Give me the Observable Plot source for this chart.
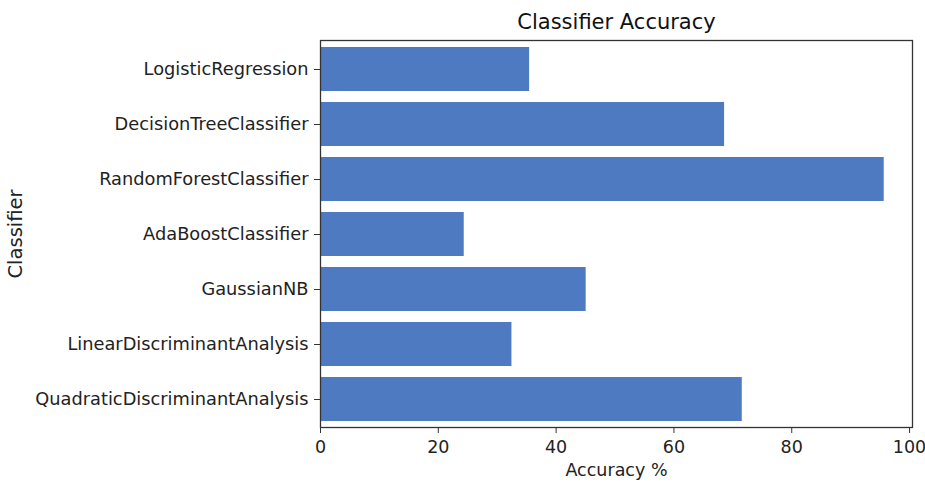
<!DOCTYPE html>
<html>
<head>
<meta charset="utf-8">
<script src="https://cdn.jsdelivr.net/npm/d3@7"></script>
<script src="https://cdn.jsdelivr.net/npm/@observablehq/plot@0.6"></script>
<style>
  html, body { margin: 0; padding: 0; background: #fff; }
  #chart svg { display: block; }
</style>
</head>
<body>
<div id="chart"></div>
<script>
const classifiers = [
  "LogisticRegression",
  "DecisionTreeClassifier",
  "RandomForestClassifier",
  "AdaBoostClassifier",
  "GaussianNB",
  "LinearDiscriminantAnalysis",
  "QuadraticDiscriminantAnalysis"
];
const accuracy = [35.5, 68.6, 95.7, 24.4, 45.1, 32.5, 71.6];
const xTicks = [0, 20, 40, 60, 80, 100];
const titleText = "Classifier Accuracy";
const xLabel = "Accuracy %";
const yLabel = "Classifier";

const data = classifiers.map((c, i) => ({classifier: c, accuracy: accuracy[i]}));

const chart = Plot.plot({
  width: 925,
  height: 483,
  marginLeft: 320,
  marginRight: 13,
  marginTop: 40,
  marginBottom: 56,
  style: {fontFamily: "DejaVu Sans", fontSize: "17.5px", color: "#222", background: "#fff"},
  x: {domain: [0, 100.5], ticks: xTicks, label: null, tickSize: 6},
  y: {domain: classifiers, paddingInner: 0.2, paddingOuter: 0.1, label: null, tickSize: 6},
  marks: [
    Plot.barX(data, {x: "accuracy", y: "classifier", fill: "#4e7ac2"}),
    Plot.axisX({ticks: xTicks, tickSize: 6, tickPadding: 7, label: null, fontSize: 17.5, stroke: "#333"}),
    Plot.axisY({tickSize: 6, tickPadding: 6, label: null, fontSize: 17.8, stroke: "#333"}),
    Plot.frame({stroke: "#333", strokeWidth: 1.3}),
    Plot.text([titleText], {frameAnchor: "top", lineAnchor: "middle", dy: -18, fontSize: 21, fill: "#111"}),
    Plot.text([xLabel], {frameAnchor: "bottom", lineAnchor: "middle", dy: 43, fontSize: 17.5, fill: "#222"}),
    Plot.text([yLabel], {frameAnchor: "left", textAnchor: "middle", lineAnchor: "middle", dx: -305, rotate: -90, fontSize: 19.5, fill: "#222"})
  ]
});
document.getElementById("chart").appendChild(chart);
</script>
</body>
</html>
